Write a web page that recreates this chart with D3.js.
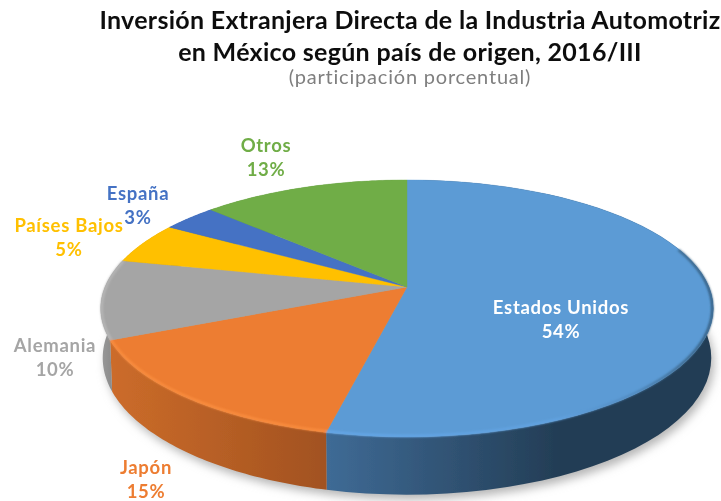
<!DOCTYPE html>
<html><head><meta charset="utf-8">
<script src="https://cdn.jsdelivr.net/npm/d3@7"></script>
<style>html,body{margin:0;padding:0;background:#fff}svg{display:block}text{font-family:Lato,"Open Sans",sans-serif}</style>
</head><body><svg id="c" width="721" height="501"></svg>
<script>
const categories=["Estados Unidos","Japón","Alemania","Países Bajos","España","Otros"];
const shares=[53.6,14.9,10,5.2,3.4,12.9];
const topColors=["#5b9bd5","#ed7d31","#a5a5a5","#ffc000","#4472c4","#70ad47"];
const labelColors=["#ffffff","#ed7d31","#a5a5a5","#ffc000","#4472c4","#70ad47"];
const titleLines=["Inversión Extranjera Directa de la Industria Automotriz","en México según país de origen, 2016/III"];
const subtitle="(participación porcentual)";

const labelAnchors=[[561,308],[146,468],[55,346],[69,226],[138,194],[266,146]];
const wallStops=[[[325,"#3f6b96"],[560,"#233d55"],[713,"#233d55"]],[[110,"#cc6c2a"],[325,"#a25220"]],[[100,"#9a9a9a"],[125,"#7c7c7c"]],[[100,"#d09c00"],[200,"#d09c00"]],[[100,"#365b9c"],[200,"#365b9c"]],[[100,"#598a39"],[400,"#598a39"]]];

const svg=d3.select("#c");
const defs=svg.append("defs");
const blur=(id,s)=>defs.append("filter").attr("id",id).attr("x","-10%").attr("y","-20%").attr("width","120%").attr("height","140%")
  .append("feGaussianBlur").attr("stdDeviation",s);
blur("soft",0.5);blur("bevel",1.3);blur("shadow",5);blur("txt",0.35);

// Perspective view of the pie plane: the slices' apex sits above the ellipse centre
const k=0.167, cx=407;
const topPlane={y0:287,ax:302,ay:124.9}, basePlane={y0:335,ax:300,ay:133};
const project=(a,p)=>{const X=Math.sin(a),Y=-Math.cos(a),w=1-k*Y;return [cx+p.ax*X/w,p.y0+p.ay*Y/w];};
const arcPts=(a0,a1,p)=>d3.range(0,61).map(i=>project(a0+(a1-a0)*i/60,p));
const line=d3.line();
const pie=d3.pie().sort(null).startAngle(0).endAngle(2*Math.PI).value(d=>d);
const arcs=pie(shares);

// soft drop shadow under the base
svg.append("path").attr("d",line(arcPts(0,2*Math.PI,basePlane))+"Z")
  .attr("transform","translate(3,5)").attr("fill","#b5b5b5").attr("filter","url(#shadow)");

const pieG=svg.append("g").attr("filter","url(#soft)");
// walls
arcs.forEach((d,i)=>{
  const id="w"+i;
  const g=defs.append("linearGradient").attr("id",id).attr("gradientUnits","userSpaceOnUse")
    .attr("x1",wallStops[i][0][0]).attr("x2",wallStops[i][wallStops[i].length-1][0]).attr("y1",0).attr("y2",0);
  const x0=wallStops[i][0][0],x1=wallStops[i][wallStops[i].length-1][0];
  wallStops[i].forEach(s=>g.append("stop").attr("offset",(s[0]-x0)/(x1-x0)).attr("stop-color",s[1]));
  const pts=arcPts(d.startAngle,d.endAngle,topPlane).concat(arcPts(d.startAngle,d.endAngle,basePlane).reverse());
  pieG.append("path").attr("d",line(pts)+"Z").attr("fill",`url(#${id})`);
});
// top face
const apex=[cx,topPlane.y0];
arcs.forEach((d,i)=>{
  pieG.append("path").attr("d",line([apex].concat(arcPts(d.startAngle,d.endAngle,topPlane)))+"Z")
    .attr("fill",topColors[i]).attr("stroke",topColors[i]).attr("stroke-width",0.4);
});
// rim bevel
const rg=defs.append("linearGradient").attr("id","rimBlue").attr("gradientUnits","userSpaceOnUse")
  .attr("x1",325).attr("x2",710).attr("y1",0).attr("y2",0);
[[0,"#66a8ea"],[0.6,"#62a3e2"],[0.8,"#4f87bb"],[0.93,"#3a6486"],[1,"#2f5473"]].forEach(s=>rg.append("stop").attr("offset",s[0]).attr("stop-color",s[1]));
const bevel=svg.append("g").attr("filter","url(#bevel)").attr("fill","none").attr("stroke-linecap","butt");
const rimInset={y0:287,ax:301,ay:124};
bevel.append("path").attr("d",line(arcPts(arcs[0].startAngle+1.25,arcs[0].endAngle,rimInset))).attr("stroke","url(#rimBlue)").attr("stroke-width",2.2);
bevel.append("path").attr("d",line(arcPts(arcs[1].startAngle,arcs[1].endAngle,rimInset))).attr("stroke","#fb8f41").attr("stroke-width",2.2);
bevel.append("path").attr("d",line(arcPts(arcs[2].startAngle,arcs[2].endAngle,rimInset))).attr("stroke","#b9b9b9").attr("stroke-width",2.2);

// labels
const labels=svg.append("g").attr("text-anchor","middle").attr("font-weight",700).attr("font-size",18.5).attr("filter","url(#txt)");
categories.forEach((c,i)=>{
  const [x,y]=labelAnchors[i];
  labels.append("text").attr("x",x).attr("y",y+6).attr("fill",labelColors[i]).attr("letter-spacing",0.7).text(c);
  labels.append("text").attr("x",x).attr("y",y+30).attr("fill",labelColors[i]).attr("letter-spacing",0.7).text(Math.round(shares[i])+"%");
});
// titles
const t=svg.append("g").attr("text-anchor","middle").attr("filter","url(#txt)");
t.append("text").attr("x",410).attr("y",29).attr("font-size",25).attr("letter-spacing",0.3).attr("font-weight",700).attr("fill","#111").text(titleLines[0]);
t.append("text").attr("x",410).attr("y",61).attr("font-size",25).attr("letter-spacing",0.3).attr("font-weight",700).attr("fill","#111").text(titleLines[1]);
t.append("text").attr("x",410).attr("y",84).attr("font-size",20).attr("fill","#7f7f7f").attr("letter-spacing",0.8).text(subtitle);
</script></body></html>
